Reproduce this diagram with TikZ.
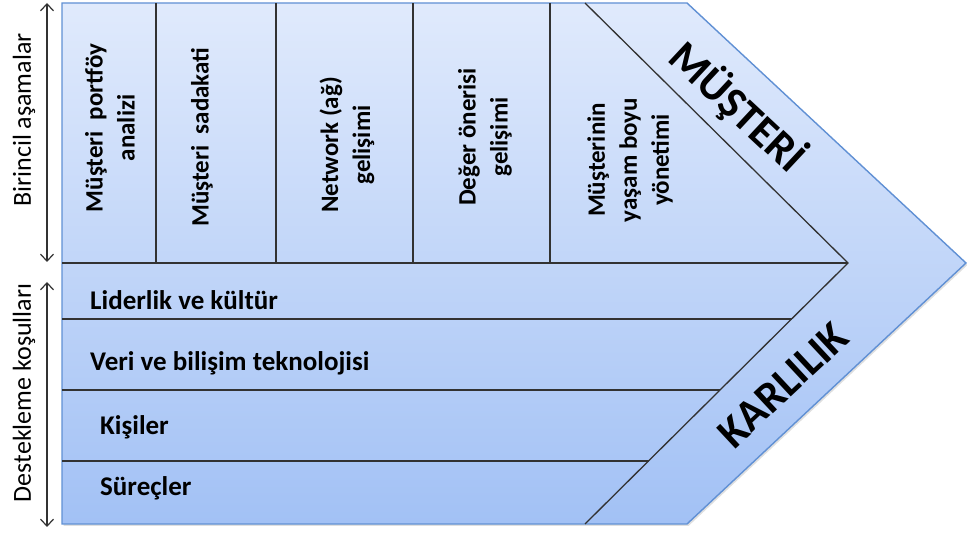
\documentclass[tikz,border=0pt]{standalone}
\usepackage{fontspec}
\setmainfont{Carlito}
\usetikzlibrary{arrows.meta,shadows}
\definecolor{shapetop}{RGB}{224,234,252}
\definecolor{shapebot}{RGB}{162,193,245}
\definecolor{shapeedge}{RGB}{96,144,212}
\definecolor{divline}{RGB}{50,50,50}

\begin{document}
\begin{tikzpicture}[x=1pt,y=1pt,
  divider/.style={draw=divline, line width=1.3pt},
  colbox/.style={rotate=90, align=center, font=\bfseries\fontsize{25}{32}\selectfont, inner sep=0pt},
  rowtext/.style={anchor=west, font=\bfseries\fontsize{27}{32}\selectfont, inner sep=0pt},
  sidelabel/.style={rotate=90, font=\fontsize{26}{31}\selectfont, inner sep=0pt},
  bigword/.style={font=\bfseries\fontsize{44}{52}\selectfont, inner sep=0pt},
  span/.style={draw=divline, line width=1.2pt,
    {Straight Barb[length=7pt,width=13pt]}-{Straight Barb[length=7pt,width=13pt]}}
]
\useasboundingbox (0,0) rectangle (967,533);

% outer chevron body
\coordinate (oTL) at (62,530);
\coordinate (oTR) at (687,530);
\coordinate (oTip) at (966,270);
\coordinate (oBR) at (687,9);
\coordinate (oBL) at (62,9);
\path[drop shadow={opacity=0.25, shadow xshift=1.5pt, shadow yshift=-2pt},
      top color=shapetop, bottom color=shapebot,
      draw=shapeedge, line width=1.4pt, line join=miter]
  (oTL) -- (oTR) -- (oTip) -- (oBR) -- (oBL) -- cycle;

% inner chevron
\coordinate (iT) at (585,530);
\coordinate (iTip) at (848,270);
\coordinate (iB) at (585,9);
\draw[divider, line join=miter] (iT) -- (iTip) -- (iB);

% split between primary stages and supporting conditions
\draw[divider] (62,270) -- (iTip);

% columns of the primary stages
\foreach \x in {156,276,413,550}
  \draw[divider] (\x,270) -- (\x,530);

% rows of the supporting conditions
\draw[divider] (62,214) -- (791.6,214);
\draw[divider] (62,143) -- (720.0,143);
\draw[divider] (62,72)  -- (648.5,72);

% primary stage labels
\node[colbox] (c1) at (110,405) {Müşteri~ portföy\\analizi};
\node[colbox] (c2) at (202,396) {Müşteri~ sadakati};
\node[colbox] (c3) at (347,388) {Network (ağ)\\gelişimi};
\node[colbox] (c4) at (485,396) {Değer önerisi\\gelişimi};
\node[colbox] (c5) at (630,373) {Müşterinin\\yaşam boyu\\yönetimi};

% supporting condition labels
\node[rowtext] (r1) at (90,233) {Liderlik ve kültür};
\node[rowtext] (r2) at (90,170) {Veri ve bilişim teknolojisi};
\node[rowtext] (r3) at (100,106) {Kişiler};
\node[rowtext] (r4) at (100,45) {Süreçler};

% outcome words along the arrow head
\node[bigword, rotate=-43] (must) at (738,426) {MÜŞTERİ};
\node[bigword, rotate=43] (karl) at (783,148) {KARLILIK};

% side spans with their labels
\coordinate (a1t) at (47,530);
\coordinate (a1b) at (47,271);
\coordinate (a2t) at (47,251);
\coordinate (a2b) at (47,6);
\draw[span] (a1t) -- (a1b);
\draw[span] (a2t) -- (a2b);
\node[sidelabel] (s1) at (24,413) {Birincil aşamalar};
\node[sidelabel] (s2) at (24,140) {Destekleme koşulları};
\end{tikzpicture}
\end{document}
